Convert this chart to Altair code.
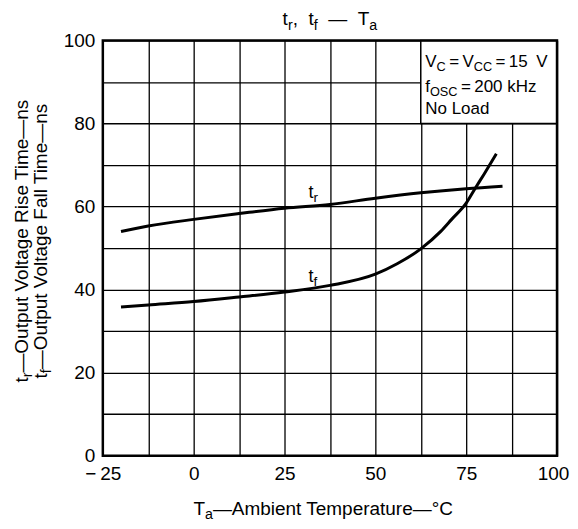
import altair as alt
import pandas as pd

# ---- data ----
temp_rise = [-20, -12.5, 0, 12.5, 25, 37.5, 50, 62.5, 75, 85]
rise_ns = [54.0, 55.3, 56.9, 58.3, 59.6, 60.5, 62.0, 63.3, 64.3, 64.9]
temp_fall = [-20, -12.5, 0, 12.5, 25, 37.5, 50, 56, 62.5, 68, 71, 75, 77.5, 80, 83.3]
fall_ns = [35.8, 36.3, 37.1, 38.2, 39.4, 41.0, 43.7, 46.2, 49.8, 54.0, 56.9, 60.8, 64.4, 67.9, 72.7]
x_grid = [-25, -12.5, 0, 12.5, 25, 37.5, 50, 62.5, 75, 87.5, 100]
y_grid = [0, 10, 20, 30, 40, 50, 60, 70, 80, 90, 100]

# ---- layout ----
W, H = 455, 416
X0, Y0 = 103, 40          # page position of plot area
PXX, PXY = W / 125.0, H / 100.0
FONT = "Liberation Sans"
NB, TH = "\u00a0", "\u2009"
SPACES = " \u00a0\u2009\u2002"

EM = {' ': .278, NB: .278, TH: .2, ',': .278, '—': 1.0, '−': .584, '=': .584, '°': .4,
      '\u2002': .5,
      'A': .667, 'C': .722, 'F': .611, 'H': .722, 'L': .556, 'N': .722, 'O': .778,
      'R': .722, 'S': .667, 'T': .611, 'V': .667, 'a': .556, 'b': .556, 'd': .556,
      'e': .556, 'f': .278, 'g': .556, 'i': .222, 'k': .5, 'l': .222, 'm': .833,
      'n': .556, 'o': .556, 'p': .556, 'r': .333, 's': .5, 't': .278, 'u': .556, 'z': .5}


def tw(s, size):
    return sum(EM.get(c, .556) for c in s) * size


def to_data(px, py):
    return -25 + (px - X0) / PXX, 100 - (py - Y0) / PXY


SUB_SCALE, SUB_DROP = 0.75, 0.22
rows = []


def split_run(t):
    core = t.strip(SPACES)
    lead = t[:len(t) - len(t.lstrip(SPACES))]
    return lead, core


def add_h(parts, x_px, base_px, size, align="left"):
    total = sum(tw(t, size * (SUB_SCALE if s else 1)) for t, s in parts)
    cur = x_px - (total / 2 if align == "center" else 0)
    for t, s in parts:
        fs = size * (SUB_SCALE if s else 1)
        lead, core = split_run(t)
        dx, dy = to_data(cur + tw(lead, fs), base_px + (SUB_DROP * size if s else 0))
        rows.append(dict(x=dx, y=dy, text=core, size=fs, angle=0))
        cur += tw(t, fs)


def add_v(parts, base_x_px, center_y_px, size):
    total = sum(tw(t, size * (SUB_SCALE if s else 1)) for t, s in parts)
    cur = center_y_px + total / 2
    for t, s in parts:
        fs = size * (SUB_SCALE if s else 1)
        lead, core = split_run(t)
        dx, dy = to_data(base_x_px + (SUB_DROP * size if s else 0), cur - tw(lead, fs))
        rows.append(dict(x=dx, y=dy, text=core, size=fs, angle=270))
        cur -= tw(t, fs)


add_h([("t", 0), ("r", 1), ("," + NB + NB + "t", 0), ("f", 1), (NB + NB + "—" + NB + NB + "T", 0), ("a", 1)],
      330.5, 25, 19, "center")
add_h([("T", 0), ("a", 1), ("—Ambient Temperature—°C", 0)], 325, 515, 19, "center")
add_v([("t", 0), ("r", 1), ("—Output Voltage Rise Time—ns", 0)], 28, 240, 19)
add_v([("t", 0), ("f", 1), ("—Output Voltage Fall Time—ns", 0)], 47, 240, 19)
add_h([("V", 0), ("C", 1), (TH + "=" + TH + "V", 0), ("CC", 1), (TH + "=" + TH + "15\u2002V", 0)], 426, 67, 17)
add_h([("f", 0), ("OSC", 1), (TH + "=" + TH + "200" + NB + "kHz", 0)], 426, 91.5, 17)
add_h([("No" + NB + "Load", 0)], 426, 114, 17)
add_h([("t", 0), ("r", 1)], 309, 198, 18)
add_h([("t", 0), ("f", 1)], 309, 282, 18)

text_df = pd.DataFrame(rows)

xs = alt.Scale(domain=[-25, 100], nice=False, zero=False)
ys = alt.Scale(domain=[0, 100], nice=False, zero=False)
xaxis = alt.Axis(values=x_grid, title=None, domain=False, ticks=False, grid=True,
                 gridColor="black", gridWidth=1.3, gridOpacity=1,
                 labelExpr="datum.value == -25 ? '\u2212\u200925' : (datum.value % 25 == 0 ? format(datum.value, 'd') : '')",
                 labelFont=FONT, labelFontSize=19, labelColor="black", labelPadding=9,
                 labelOffset={"condition": {"test": "datum.value == 100", "value": -4}, "value": 0},
                 labelFlush=False, labelOverlap=False)
yaxis = alt.Axis(values=y_grid, title=None, domain=False, ticks=False, grid=True,
                 gridColor="black", gridWidth=1.3, gridOpacity=1,
                 labelExpr="datum.value % 20 == 0 ? format(datum.value, 'd') : ''",
                 labelFont=FONT, labelFontSize=19, labelColor="black", labelPadding=8,
                 labelFlush=False, labelOverlap=False)


def X(f):
    return alt.X(f, type="quantitative", scale=xs, axis=xaxis)


def Y(f):
    return alt.Y(f, type="quantitative", scale=ys, axis=yaxis)


rise_df = pd.DataFrame({"x": temp_rise, "y": rise_ns})
fall_df = pd.DataFrame({"x": temp_fall, "y": fall_ns})
box_df = pd.DataFrame({"x": [62.5], "x2": [100], "y": [80], "y2": [100]})
frame_df = pd.DataFrame({"x": [-25], "x2": [100], "y": [0], "y2": [100]})

box = alt.Chart(box_df).mark_rect(fill="white", stroke="black", strokeWidth=1.5).encode(
    x=X("x"), x2="x2", y=Y("y"), y2="y2")
rise = alt.Chart(rise_df).mark_line(color="black", strokeWidth=3, interpolate="monotone").encode(
    x=X("x"), y=Y("y"))
fall = alt.Chart(fall_df).mark_line(color="black", strokeWidth=3, interpolate="monotone").encode(
    x=X("x"), y=Y("y"))
frame = alt.Chart(frame_df).mark_rect(fillOpacity=0, stroke="black", strokeWidth=2.5).encode(
    x=X("x"), x2="x2", y=Y("y"), y2="y2")
texts = alt.Chart(text_df).mark_text(align="left", baseline="alphabetic", font=FONT, color="black").encode(
    x=X("x"), y=Y("y"), text="text:N",
    size=alt.Size("size:Q", scale=None), angle=alt.Angle("angle:Q", scale=None))

chart = alt.layer(box, rise, fall, frame, texts).properties(
    width=W, height=H,
    autosize=alt.AutoSizeParams(type="none"),
    padding={"left": X0 - 8, "top": Y0 - 8, "right": 13, "bottom": 65},
    background="white",
).configure_view(strokeWidth=0)

chart.save("out.html", embed_options={"renderer": "svg", "actions": False})
